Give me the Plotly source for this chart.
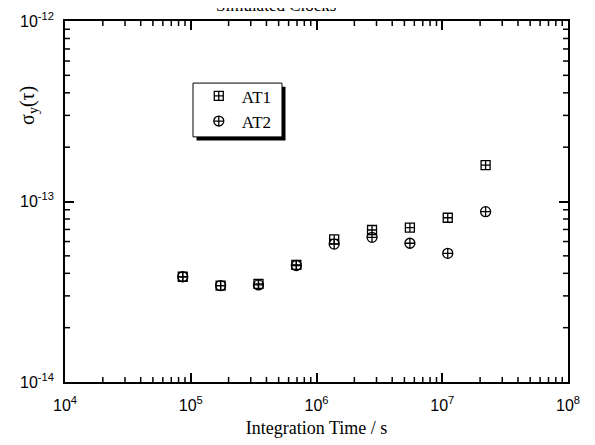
import plotly.graph_objects as go

tau = [86400, 172800, 345600, 691200, 1382400, 2764800, 5529600, 11059200, 22118400]
at1 = [3.83e-14, 3.42e-14, 3.50e-14, 4.45e-14, 6.17e-14, 6.95e-14, 7.16e-14, 8.13e-14, 1.59e-13]
at2 = [3.83e-14, 3.42e-14, 3.45e-14, 4.42e-14, 5.81e-14, 6.33e-14, 5.87e-14, 5.16e-14, 8.78e-14]
series_names = ["AT1", "AT2"]
title_text = "Simulated Clocks"
x_title = "Integration Time / s"
y_title = "σ<sub>y</sub>(τ)"
x_exponents = [4, 5, 6, 7, 8]
y_exponents = [-14, -13, -12]

serif = "Liberation Serif, Times New Roman, serif"
sans = "Liberation Sans, Arial, sans-serif"

x_major = [10.0 ** e for e in x_exponents]
y_major = [10.0 ** e for e in y_exponents]
x_labels = ["10<sup>%d</sup>" % e for e in x_exponents]
y_labels = ["10<sup>%d</sup>" % e for e in y_exponents]
x_minor = [k * 10.0 ** d for d in x_exponents[:-1] for k in range(2, 10)]
y_minor = [k * 10.0 ** d for d in y_exponents[:-1] for k in range(2, 10)]

fig = go.Figure()
fig.add_trace(go.Scatter(x=tau, y=at1, mode="markers", name=series_names[0],
                         marker=dict(symbol="square-cross-open", size=9, color="black",
                                     line=dict(width=1.3, color="black"))))
fig.add_trace(go.Scatter(x=tau, y=at2, mode="markers", name=series_names[1],
                         marker=dict(symbol="circle-cross-open", size=10, color="black",
                                     line=dict(width=1.3, color="black"))))

axis_common = dict(
    type="log", showgrid=False, zeroline=False, linecolor="black", showline=True, linewidth=1.6,
    mirror="allticks", ticks="inside", tickcolor="black", ticklen=9, tickwidth=1.6,
    automargin=False, tickmode="array",
    tickfont=dict(family=sans, size=16, color="black"),
)

fig.update_layout(
    xaxis=dict(range=[4, 8], tickvals=x_major, ticktext=x_labels, ticklabelstandoff=8,
               title=dict(text=x_title, font=dict(family=serif, size=18, color="black"), standoff=8),
               **axis_common),
    yaxis=dict(range=[-14, -12], tickvals=y_major, ticktext=y_labels, ticklabelstandoff=6,
               **axis_common),
)

# minor tick marks (inside, on all four sides) at the 2..9 positions of each decade
tick_line = dict(color="black", width=1.5)
for v in x_minor:
    fig.add_shape(type="line", xref="x", yref="paper", x0=v, x1=v, ysizemode="pixel",
                  yanchor=0, y0=0, y1=5, line=tick_line, layer="above")
    fig.add_shape(type="line", xref="x", yref="paper", x0=v, x1=v, ysizemode="pixel",
                  yanchor=1, y0=0, y1=-5, line=tick_line, layer="above")
for v in y_minor:
    fig.add_shape(type="line", xref="paper", yref="y", y0=v, y1=v, xsizemode="pixel",
                  xanchor=0, x0=0, x1=5, line=tick_line, layer="above")
    fig.add_shape(type="line", xref="paper", yref="y", y0=v, y1=v, xsizemode="pixel",
                  xanchor=1, x0=0, x1=-5, line=tick_line, layer="above")

# legend box with drop shadow
bx0, bx1, by0, by1 = 0.2545, 0.4314, 0.679, 0.828
fig.add_shape(type="rect", xref="paper", yref="paper", x0=bx0 + 0.007, x1=bx1 + 0.007,
              y0=by0 - 0.010, y1=by1 - 0.010, fillcolor="black", line=dict(width=0), layer="above")
fig.add_shape(type="rect", xref="paper", yref="paper", x0=bx0, x1=bx1, y0=by0, y1=by1,
              fillcolor="white", line=dict(width=1, color="black"), layer="above")

fig.add_annotation(text=title_text, xref="paper", yref="paper", x=0.42, y=1.042,
                   showarrow=False, font=dict(family=serif, size=17, color="black"),
                   xanchor="center", yanchor="middle")
fig.add_annotation(text=y_title, xref="paper", yref="paper", x=-0.074, y=0.767,
                   showarrow=False, textangle=-90, font=dict(family=serif, size=20, color="black"),
                   xanchor="center", yanchor="middle")

# page body has an 8px margin, so the figure is sized/positioned to compensate
fig.update_layout(
    width=587, height=437,
    margin=dict(l=57, r=27, t=13, b=63, autoexpand=False),
    paper_bgcolor="white", plot_bgcolor="white",
    showlegend=True,
    legend=dict(x=0.26, y=0.841, xanchor="left", yanchor="top", bgcolor="rgba(0,0,0,0)",
                borderwidth=0, font=dict(family=serif, size=17, color="black"),
                itemwidth=36, tracegroupgap=0),
)

fig.write_html("out.html")
